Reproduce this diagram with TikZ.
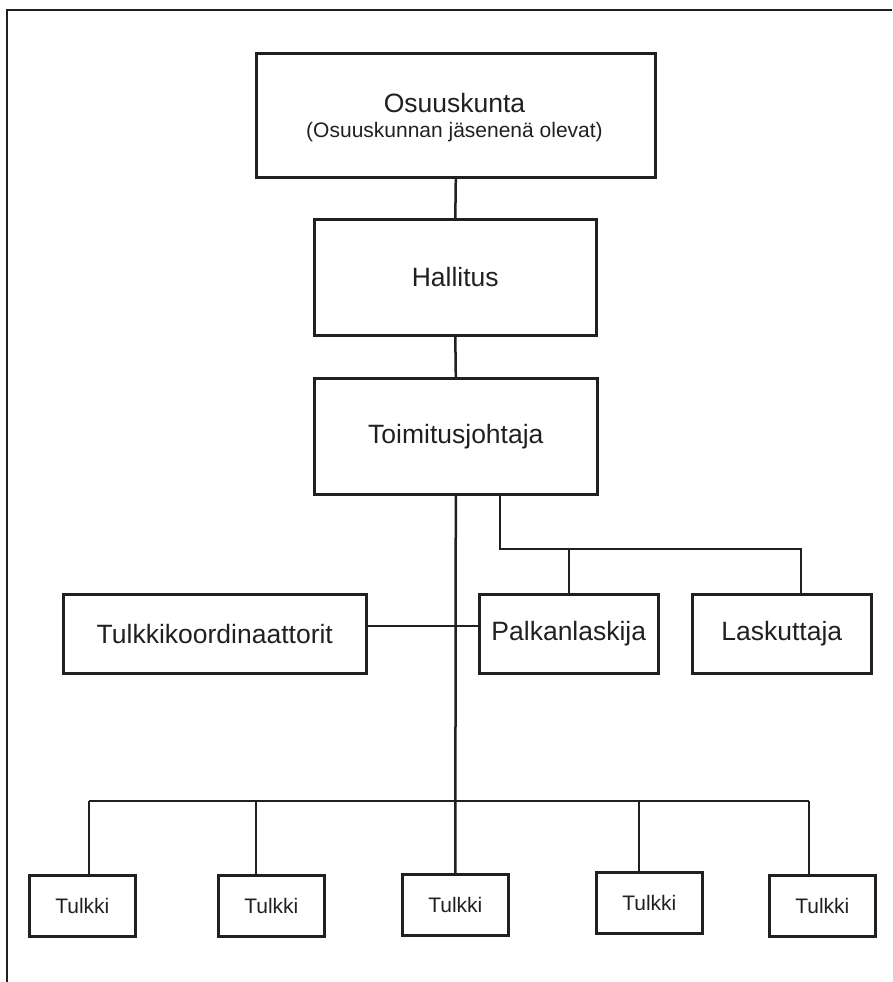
\documentclass[tikz,border=0pt]{standalone}
\usepackage{fontspec}
\setmainfont{Liberation Sans}
\definecolor{ink}{HTML}{231F20}
\begin{document}
\begin{tikzpicture}[x=1pt,y=-1pt,
  ln/.style={draw=ink, line width=2.5pt},
  box/.style={draw=ink, line width=2.6pt, rectangle, inner sep=0pt, anchor=north west, text=ink,
              font=\fontsize{26.5}{30}\selectfont},
  small/.style={box, font=\fontsize{21}{24}\selectfont},
  lbl/.style={text=ink, inner sep=0pt}]
\useasboundingbox (0,0) rectangle (892,982);
% frame
\coordinate (fb) at (7,982);
\coordinate (fc) at (7,10);
\coordinate (fr) at (892,10);
\draw[ln, line width=2.7pt] (fb) -- (fc) -- (fr);
% boxes
\node[box, minimum width=399pt, minimum height=124pt] (osk) at (255,52) {};
\node[lbl, font=\fontsize{26.5}{30}\selectfont] (oskt) at (454.5,103) {Osuuskunta};
\node[lbl, font=\fontsize{21}{24}\selectfont] (osks) at (454.5,132) {(Osuuskunnan jäsenenä olevat)};
\node[box, minimum width=282pt, minimum height=116pt] (hal) at (313,218) {Hallitus};
\node[box, minimum width=283pt, minimum height=116pt] (tj) at (313,377) {Toimitusjohtaja};
\node[box, minimum width=303pt, minimum height=79pt] (tk) at (62,593) {Tulkkikoordinaattorit};
\node[box, minimum width=179pt, minimum height=79pt] (pl) at (478,593) {Palkanlaskija};
\node[box, minimum width=179pt, minimum height=79pt] (la) at (691,593) {Laskuttaja};
\node[small, minimum width=106pt, minimum height=61pt] (t1) at (28,874) {Tulkki};
\node[small, minimum width=106pt, minimum height=61pt] (t2) at (217,874) {Tulkki};
\node[small, minimum width=106pt, minimum height=61pt] (t3) at (401,873) {Tulkki};
\node[small, minimum width=106pt, minimum height=61pt] (t4) at (595,871) {Tulkki};
\node[small, minimum width=106pt, minimum height=61pt] (t5) at (768,874) {Tulkki};
% connectors
\draw[ln] (osk.south) -- (hal.north);
\draw[ln] (hal.south) -- (tj.north);
\draw[ln] (tj.south) -- (t3.north);
\coordinate (b1) at (500,549);
\coordinate (b2) at (801,549);
\draw[ln] (tj.south -| b1) -- (b1) -- (b2) -- (b2 |- la.north);
\draw[ln] (pl.north |- b1) -- (pl.north);
\coordinate (cy) at (0,626);
\draw[ln] (tk.east |- cy) -- (pl.west |- cy);
\coordinate (busL) at (89,801);
\coordinate (busR) at (809,801);
\coordinate (d2) at (256,801);
\coordinate (d4) at (639,801);
\draw[ln] (busL) -- (busR);
\draw[ln] (busL) -- (busL |- t1.north);
\draw[ln] (d2) -- (d2 |- t2.north);
\draw[ln] (d4) -- (d4 |- t4.north);
\draw[ln] (busR) -- (busR |- t5.north);
\end{tikzpicture}
\end{document}
